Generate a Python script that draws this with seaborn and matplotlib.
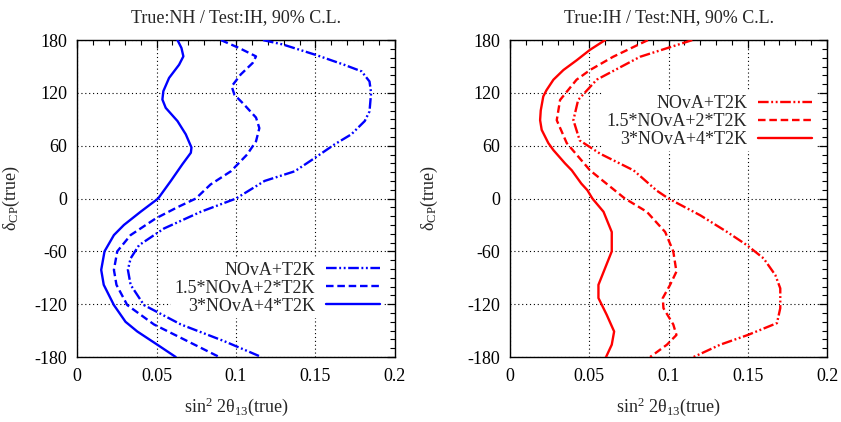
import matplotlib
matplotlib.use("Agg")
import matplotlib.pyplot as plt
import seaborn as sns
import pandas as pd
from matplotlib.ticker import MultipleLocator, FixedLocator, FixedFormatter
from matplotlib.lines import Line2D

# ---------------- data ----------------
panel_titles = ["True:NH / Test:IH, 90% C.L.", "True:IH / Test:NH, 90% C.L."]
series_labels = ["NOvA+T2K", "1.5*NOvA+2*T2K", "3*NOvA+4*T2K"]
xtick_vals = [0, 0.05, 0.1, 0.15, 0.2]
xtick_labels = ["0", "0.05", "0.1", "0.15", "0.2"]
ytick_vals = [-180, -120, -60, 0, 60, 120, 180]
ytick_labels = ["-180", "-120", "-60", "0", "60", "120", "180"]

# Left panel (True NH / Test IH)
nh_1x_deg = [180, 175, 163, 152, 144.5, 133, 120, 99, 88, 73, 61.5, 43, 31, 20, 0,
             -15, -34, -53, -68, -81, -98, -121, -143, -162, -180]
nh_1x_s2t = [0.117, 0.1295, 0.1505, 0.168, 0.179, 0.184, 0.185, 0.184, 0.181, 0.1726,
             0.162, 0.147, 0.137, 0.118, 0.100, 0.0779, 0.0547, 0.039, 0.0337, 0.032,
             0.0337, 0.0421, 0.0653, 0.0926, 0.116]

nh_2x_deg = [180, 171, 161.5, 154, 141, 127.5, 118, 107, 92, 80, 65, 50, 31, 16, 0,
             -10, -22.6, -41.5, -60, -81, -98, -121, -143, -162, -180]
nh_2x_s2t = [0.0905, 0.102, 0.1126, 0.1105, 0.103, 0.0973, 0.099, 0.105, 0.1126, 0.1147,
             0.1126, 0.107, 0.0968, 0.084, 0.0747, 0.063, 0.0495, 0.0337, 0.0253, 0.0232,
             0.0248, 0.0316, 0.0484, 0.0695, 0.0895]

nh_4x_deg = [180, 171, 161.5, 152, 137, 122, 112.5, 103, 88, 73, 58, 52, 39, 20, 0,
             -15, -30, -41.5, -60, -81, -98, -121, -140, -151, -166, -180]
nh_4x_s2t = [0.0632, 0.0657, 0.0669, 0.0642, 0.0579, 0.0543, 0.0537, 0.0558, 0.0632,
             0.0684, 0.072, 0.0716, 0.0663, 0.059, 0.051, 0.040, 0.0295, 0.0232, 0.0173,
             0.0152, 0.0168, 0.0232, 0.0305, 0.0379, 0.0505, 0.0621]

# Right panel (True IH / Test NH)
ih_1x_deg = [180, 161, 135, 112, 89, 66, 51, 32, 9, 0, -19, -38, -53, -68, -87, -102,
             -124.5, -141.5, -155, -166, -180]
ih_1x_s2t = [0.115, 0.082, 0.0547, 0.043, 0.040, 0.044, 0.0568, 0.078, 0.0926, 0.100,
             0.12, 0.137, 0.1495, 0.16, 0.1674, 0.1705, 0.1705, 0.1684, 0.15, 0.1326, 0.1158]

ih_2x_deg = [180, 161, 146, 135, 112, 89, 63, 32, 0, -15, -38, -60, -83, -98, -113,
             -124.5, -143, -155, -166, -180]
ih_2x_s2t = [0.087, 0.065, 0.0505, 0.042, 0.0316, 0.0295, 0.0358, 0.0505, 0.0725, 0.0863,
             0.0979, 0.103, 0.105, 0.101, 0.0964, 0.0968, 0.103, 0.105, 0.099, 0.0884]

ih_4x_deg = [180, 169, 157, 146, 135, 123, 116, 100, 89, 78, 63, 55, 40, 32, 17, 9.5, 0,
             -15, -38, -60, -79, -98, -113, -132, -151, -166, -180]
ih_4x_s2t = [0.060, 0.0505, 0.042, 0.0337, 0.0274, 0.023, 0.021, 0.0194, 0.019, 0.020,
             0.0242, 0.0274, 0.0347, 0.039, 0.045, 0.0488, 0.052, 0.059, 0.0642, 0.0642,
             0.060, 0.0558, 0.0558, 0.061, 0.0657, 0.0642, 0.0606]

# ---------------- style ----------------
sns.set_style("white")
plt.rcParams["font.family"] = ["Liberation Serif", "DejaVu Serif"]
plt.rcParams["mathtext.fontset"] = "custom"
plt.rcParams["mathtext.rm"] = "Liberation Serif"
plt.rcParams["mathtext.it"] = "Liberation Serif:italic"
plt.rcParams["axes.unicode_minus"] = False

FS = 13
dashdotdot = (0, (4.5, 1.1, 0.8, 1.1, 0.8, 1.1))
dashed = (0, (3.2, 1.6))
solid = "-"
LW = 1.7

fig = plt.figure(figsize=(8.41, 4.22), dpi=100)
ax1 = fig.add_axes([0.0916, 0.154, 0.378, 0.751])
ax2 = fig.add_axes([0.6064, 0.154, 0.377, 0.751])

panels = [
    (ax1, "blue", [(nh_1x_s2t, nh_1x_deg), (nh_2x_s2t, nh_2x_deg), (nh_4x_s2t, nh_4x_deg)],
     (0.965, 0.312), -0.173),
    (ax2, "red", [(ih_1x_s2t, ih_1x_deg), (ih_2x_s2t, ih_2x_deg), (ih_4x_s2t, ih_4x_deg)],
     (0.965, 0.838), -0.221),
]
styles = [dashdotdot, dashed, solid]

for i, (ax, col, curves, leg_anchor, ylab_x) in enumerate(panels):
    handles = []
    for (xs, ys), ls, lab in zip(curves, styles, series_labels):
        df = pd.DataFrame({"s2t": xs, "deg": ys})
        sns.lineplot(data=df, x="s2t", y="deg", sort=False, estimator=None,
                     ax=ax, color=col, linestyle=ls, linewidth=LW, zorder=3)
        handles.append(Line2D([], [], color=col, linestyle=ls, linewidth=LW))

    ax.set_xlim(0, 0.2)
    ax.set_ylim(-180, 180)
    ax.xaxis.set_major_locator(FixedLocator(xtick_vals))
    ax.xaxis.set_major_formatter(FixedFormatter(xtick_labels))
    ax.yaxis.set_major_locator(FixedLocator(ytick_vals))
    ax.yaxis.set_major_formatter(FixedFormatter(ytick_labels))
    ax.xaxis.set_minor_locator(MultipleLocator(0.01))
    ax.yaxis.set_minor_locator(MultipleLocator(10))
    ax.tick_params(which="both", direction="in", top=True, right=True,
                   labelsize=FS, colors="black")
    ax.tick_params(which="major", length=6, width=0.9)
    ax.tick_params(which="minor", length=3.5, width=0.8)
    ax.tick_params(axis="x", which="major", pad=8)
    ax.tick_params(axis="y", which="major", pad=7)
    ax.grid(True, which="major", linestyle=(0, (1, 2.5)), color="black", linewidth=0.8)
    ax.set_axisbelow(True)
    for sp in ax.spines.values():
        sp.set_color("black")
        sp.set_linewidth(1.0)

    ax.set_title(panel_titles[i], fontsize=FS, pad=13)
    ax.set_xlabel("sin$^2$ 2θ$_{13}$(true)", fontsize=FS)
    ax.set_ylabel(r"δ$_{\mathrm{CP}}$(true)", fontsize=FS)
    ax.xaxis.set_label_coords(0.5, -0.12)
    ax.yaxis.set_label_coords(ylab_x, 0.5)

    leg = ax.legend(handles, series_labels, loc="upper right", bbox_to_anchor=leg_anchor,
                    markerfirst=False, fontsize=FS, frameon=True, framealpha=1.0,
                    facecolor="white", edgecolor="none", fancybox=False,
                    handlelength=3.0, handletextpad=0.6, labelspacing=0.05,
                    borderpad=0.2, borderaxespad=0.0)
    leg.set_zorder(5)

fig.savefig("out.png", dpi=100)
